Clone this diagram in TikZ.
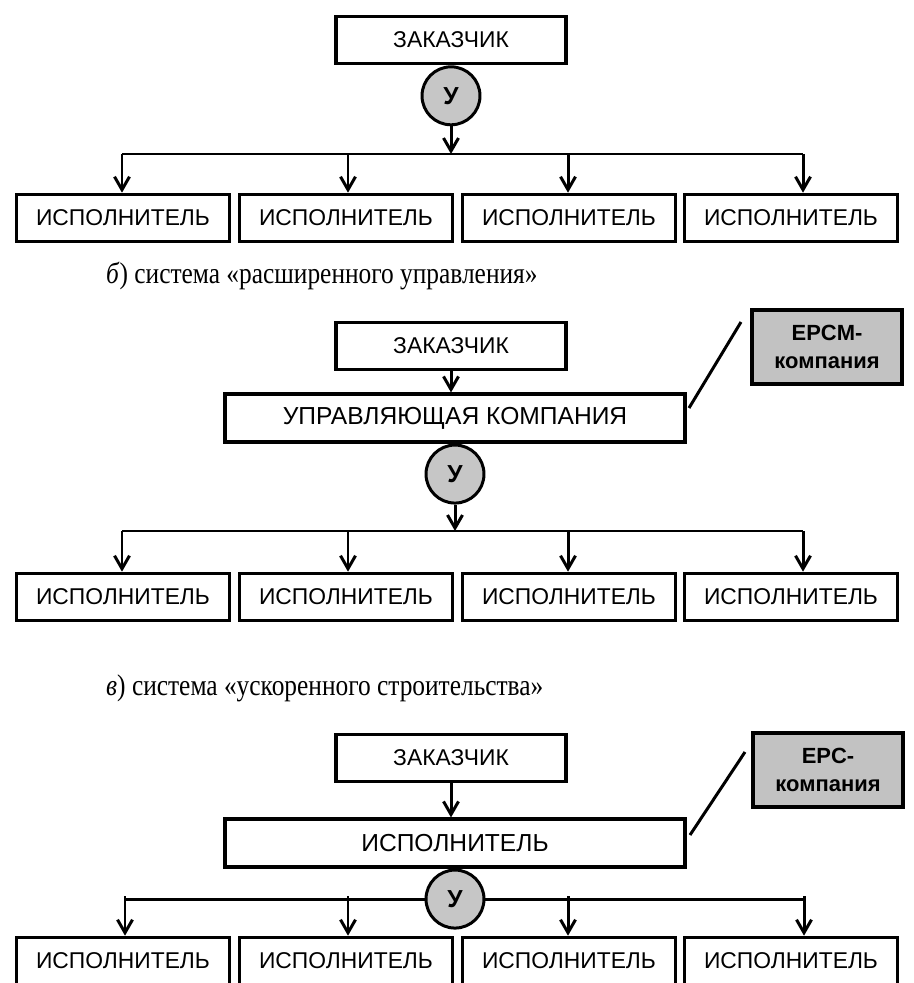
\documentclass[tikz,border=0pt]{standalone}
\usepackage{fontspec}
\setmainfont{Liberation Serif}
\setsansfont{Liberation Sans}
\newfontfamily\capfont{Liberation Serif}[FakeStretch=0.85]
\usepackage{tikz}
\usetikzlibrary{positioning,arrows.meta}
\definecolor{ctrlgray}{HTML}{C6C6C6}
\definecolor{firmgray}{HTML}{C2C2C2}

\begin{document}
\begin{tikzpicture}[
        x=0.02cm, y=-0.02cm,
        box/.style = {draw, line width=1.8pt, minimum width=4.26cm, minimum height=0.95cm,
                      inner sep=0pt, font=\sffamily\fontsize{13}{15}\selectfont},
        cust/.style = {box, minimum width=4.6cm, minimum height=0.95cm},
        wide/.style = {box, minimum width=9.2cm, minimum height=0.96cm,
                       font=\sffamily\fontsize{14}{16}\selectfont},
        ctrl/.style = {circle, draw, line width=1.7pt, fill=ctrlgray, minimum size=1.16cm,
                       inner sep=0pt, font=\sffamily\bfseries\fontsize{14}{16}\selectfont},
        firm/.style = {draw, line width=1.8pt, fill=firmgray, minimum width=3cm,
                       minimum height=1.48cm, align=center,
                       font=\sffamily\bfseries\fontsize{12.5}{15.5}\selectfont},
        link/.style = {-{Straight Barb[length=2.6mm,width=3mm]}, line width=1.7pt},
        bar/.style = {line width=1.7pt},
        caption/.style = {anchor=base west, font=\capfont\fontsize{17}{20}\selectfont}
    ]
        \useasboundingbox (0,0) rectangle (913,983);

        % a) 
        \node[cust]                   (za) at (451,40) {ЗАКАЗЧИК};
        \node[ctrl, below=0pt of za]  (ua) {У};
        \foreach \i/\x/\ax in {1/123/122,2/346/348,3/569/568,4/791/803} {
            \node[box] (a\i) at (\x,218) {ИСПОЛНИТЕЛЬ};
            \coordinate (ja\i) at (\ax,154);
            \draw[link] (ja\i) -- (ja\i |- a\i.north);
        }
        \draw[bar] (ja1) -- (ja4);
        \draw[link] (ua) -- (ua |- ja1);

        \node[caption] (capb) at (100,283) {\textit{б}) система «расширенного управления»};

        % b)
        \node[cust]                   (zb) at (451,346) {ЗАКАЗЧИК};
        \node[wide]                   (mb) at (455,418) {УПРАВЛЯЮЩАЯ КОМПАНИЯ};
        \node[firm]                   (fb) at (827,347) {EPCM-\\компания};
        \draw[link] (zb) -- (zb |- mb.north);
        \coordinate (lb1) at (689,408);
        \coordinate (lb2) at (741,322);
        \draw[bar] (lb1) -- (lb2);
        \node[ctrl, below=0pt of mb]  (ub) {У};
        \foreach \i/\x/\ax in {1/123/122,2/346/348,3/569/568,4/791/803} {
            \node[box] (b\i) at (\x,597) {ИСПОЛНИТЕЛЬ};
            \coordinate (jb\i) at (\ax,531);
            \draw[link] (jb\i) -- (jb\i |- b\i.north);
        }
        \draw[bar] (jb1) -- (jb4);
        \draw[link] (ub) -- (ub |- jb1);

        \node[caption] (capc) at (100,695) {\textit{в}) система «ускоренного строительства»};

        % c)
        \node[cust]                   (zc) at (451,758) {ЗАКАЗЧИК};
        \node[wide]                   (mc) at (455,843) {ИСПОЛНИТЕЛЬ};
        \node[firm]                   (fc) at (828,770) {EPC-\\компания};
        \draw[link] (zc) -- (zc |- mc.north);
        \coordinate (lc1) at (690,835);
        \coordinate (lc2) at (745,752);
        \draw[bar] (lc1) -- (lc2);
        \node[ctrl, below=0pt of mc]  (uc) {У};
        \foreach \i/\x/\ax in {1/123/125,2/346/348,3/569/568,4/791/804} {
            \node[box] (c\i) at (\x,961) {ИСПОЛНИТЕЛЬ};
            \coordinate (jc\i) at (\ax,896);
            \draw[link] (jc\i) -- (jc\i |- c\i.north);
        }
        \draw[bar] (uc.west) -- (uc.west -| jc1);
        \draw[bar] (uc.east) -- (uc.east -| jc4);
    \end{tikzpicture}
\end{document}
